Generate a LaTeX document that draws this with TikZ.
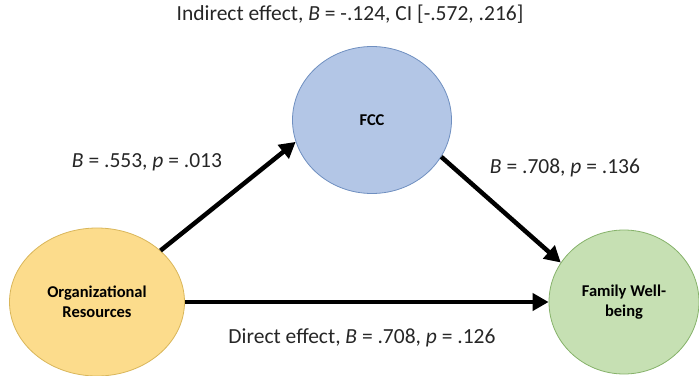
\documentclass[tikz,border=0pt]{standalone}
\usepackage{fontspec}
\setmainfont{Carlito}
\usetikzlibrary{shapes.geometric,arrows.meta}
\definecolor{orgfill}{HTML}{FCDC8C}
\definecolor{orgdraw}{HTML}{D9B65A}
\definecolor{fccfill}{HTML}{B3C6E6}
\definecolor{fccdraw}{HTML}{6F8FC0}
\definecolor{fwfill}{HTML}{C6E0B3}
\definecolor{fwdraw}{HTML}{86B26A}
\tikzset{
  var/.style={ellipse, inner sep=0pt, line width=0.8pt, align=center,
    font=\fontsize{16.5}{20}\selectfont\bfseries},
  path/.style={line width=4.5pt, -{Triangle[length=16pt,width=17pt]}, shorten >=0pt},
  lab/.style={font=\fontsize{21.5}{24}\selectfont, text=black!85, inner sep=0pt}
}
\begin{document}
\begin{tikzpicture}[x=1pt,y=-1pt]
\useasboundingbox (0,0) rectangle (699,375);
\node[var, fill=orgfill, draw=orgdraw, minimum width=175pt, minimum height=148pt] (org) at (97,302) {Organizational\\Resources};
\node[var, fill=fccfill, draw=fccdraw, minimum width=159pt, minimum height=147pt] (fcc) at (372,120) {FCC};
\node[var, fill=fwfill, draw=fwdraw, minimum width=150pt, minimum height=144pt] (fw) at (624,302) {Family Well-\\being};
\draw[path] (org.39) -- (fcc.196);
\draw[path] (fcc.-28) -- (fw.148);
\draw[path] (org.east) -- (fw.west);
\node[lab] (ind) at (350,14) {Indirect effect, \textit{B} = -.124, CI [-.572, .216]};
\node[lab] (a) at (147,162) {\textit{B} = .553, \textit{p} = .013};
\node[lab] (b) at (565,168) {\textit{B} = .708, \textit{p} = .136};
\node[lab] (c) at (362,338) {Direct effect, \textit{B} = .708, \textit{p} = .126};
\end{tikzpicture}
\end{document}
